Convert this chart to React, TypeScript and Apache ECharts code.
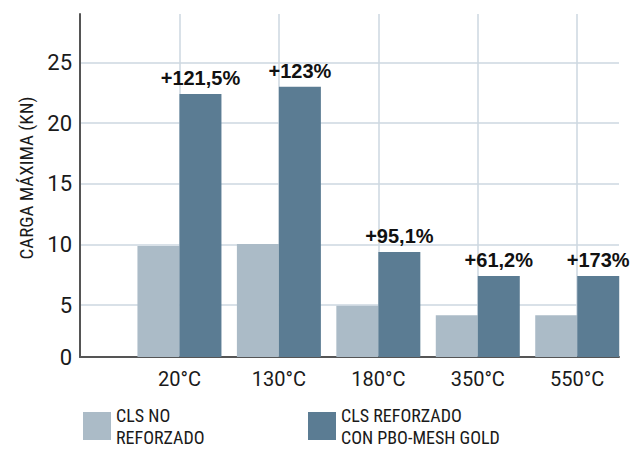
import React, { useEffect, useRef } from "react";
import * as echarts from "echarts";

const categories = ["20°C", "130°C", "180°C", "350°C", "550°C"];
const positions = [1, 2, 3, 4, 5];
const unreinforced = [9.88, 10.04, 4.95, 4.18, 4.18];
const reinforced = [22.4, 23.0, 9.38, 7.4, 7.4];
const increaseLabels = ["+121,5%", "+123%", "+95,1%", "+61,2%", "+173%"];
const yTicks = [0.73, 5, 10, 15, 20, 25];
const seriesNames = ["CLS NO REFORZADO", "CLS REFORZADO CON PBO-MESH GOLD"];
const legendLines: Record<string, string> = {
  "CLS NO REFORZADO": "CLS NO\nREFORZADO",
  "CLS REFORZADO CON PBO-MESH GOLD": "CLS REFORZADO\nCON PBO-MESH GOLD",
};

const LIGHT = "#abbbc7";
const DARK = "#5b7c93";
const GRID = "#cdd7e0";
const AXIS = "#555555";
const TEXT = "#1a1a1a";
const NARROW = "'Liberation Sans Narrow', 'Roboto Condensed', 'DejaVu Sans Condensed', sans-serif";

export default function App() {
  const ref = useRef<HTMLDivElement>(null);
  useEffect(() => {
    document.body.style.margin = "0";
    if (!ref.current) return;
    const chart = echarts.init(ref.current, undefined, { renderer: "svg" });
    const legendText = {
      fontFamily: NARROW,
      fontSize: 18,
      color: TEXT,
      lineHeight: 22,
      padding: [10, 0, 0, 0],
    };
    const legendBase = {
      top: 399,
      padding: 0,
      itemWidth: 28,
      itemHeight: 28,
      itemGap: 6,
      icon: "rect",
      selectedMode: false,
      formatter: (n: string) => legendLines[n] ?? n,
      textStyle: legendText,
    };
    chart.setOption({
      animation: false,
      grid: { left: 80, right: 16, top: 14, bottom: 97, containLabel: false },
      xAxis: {
        type: "value",
        min: 0,
        max: 5.42,
        axisLine: { show: true, onZero: false, lineStyle: { color: AXIS, width: 2 } },
        axisTick: { show: false, customValues: positions },
        splitLine: { show: true, lineStyle: { color: GRID, width: 1.5 } },
        axisLabel: {
          customValues: positions,
          formatter: (v: number) => categories[Math.round(v) - 1] ?? "",
          fontFamily: "Roboto, sans-serif",
          fontSize: 20,
          color: TEXT,
          margin: 12,
        },
      },
      yAxis: {
        type: "value",
        min: 0.73,
        max: 29,
        name: "CARGA MÁXIMA (KN)",
        nameLocation: "middle",
        nameRotate: 90,
        nameGap: 44,
        nameTextStyle: {
          fontFamily: NARROW,
          fontSize: 19,
          color: TEXT,
          padding: [0, 0, 0, 15],
        },
        axisLine: { show: true, lineStyle: { color: AXIS, width: 2 } },
        axisTick: { show: false, customValues: yTicks },
        splitLine: { show: true, lineStyle: { color: GRID, width: 1.5 } },
        axisLabel: {
          customValues: yTicks,
          formatter: (v: number) => (v < 1 ? "0" : String(v)),
          fontFamily: "Roboto, sans-serif",
          fontSize: 22,
          color: TEXT,
          margin: 8,
          padding: [0, 0, 9, 0],
        },
      },
      legend: [
        { ...legendBase, data: [seriesNames[0]], left: 83 },
        { ...legendBase, data: [seriesNames[1]], left: 308 },
      ],
      series: [
        {
          name: seriesNames[0],
          type: "bar",
          barWidth: 42,
          barGap: "0%",
          clip: true,
          itemStyle: { color: LIGHT },
          data: positions.map((p, i) => [p, unreinforced[i]]),
        },
        {
          name: seriesNames[1],
          type: "bar",
          barWidth: 42,
          barGap: "0%",
          clip: true,
          itemStyle: { color: DARK },
          label: {
            show: true,
            position: "top",
            distance: 6,
            formatter: (p: any) => increaseLabels[p.dataIndex],
            fontFamily: "'Liberation Sans', Arial, sans-serif",
            fontWeight: "bold",
            fontSize: 20,
            color: "#111111",
          },
          data: positions.map((p, i) => [p, reinforced[i]]),
        },
      ],
    });
    return () => chart.dispose();
  }, []);
  return <div ref={ref} style={{ width: 635, height: 454 }} />;
}
